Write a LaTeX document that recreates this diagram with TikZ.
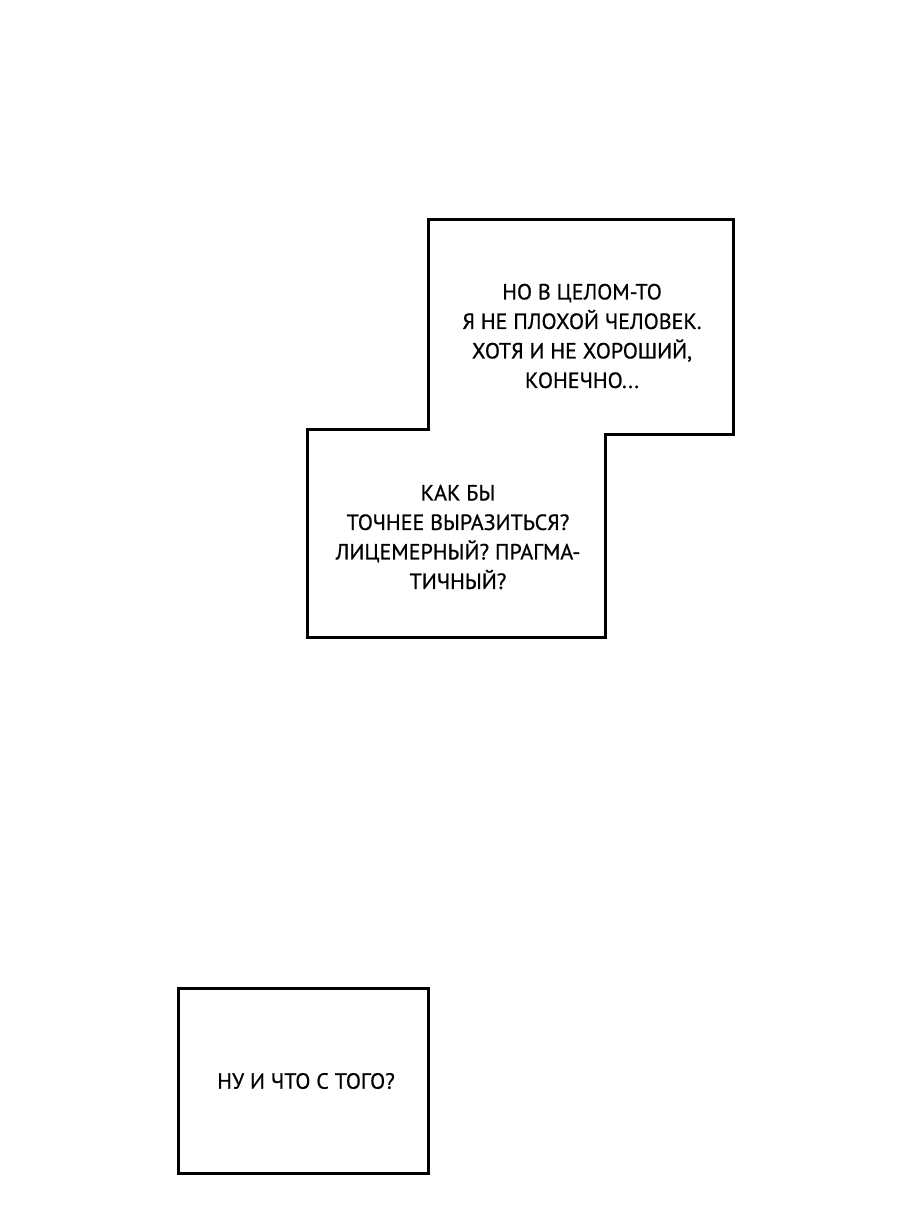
\documentclass[tikz,border=0pt]{standalone}
\usepackage{fontspec}
\setmainfont{PT Sans}[FakeBold=0.7]
\usepackage{tikz}
\tikzset{
	panel/.style={draw=black, line width=3pt, fill=white, line join=miter},
	say/.style={align=center, font=\fontsize{22}{29.5}\selectfont, inner sep=0pt}
}

\begin{document}
\begin{tikzpicture}[x=1pt, y=-1pt]
				\useasboundingbox[fill=white] (0,0) rectangle (900,1219);
				\draw[panel] (428,219) -- (733,219) -- (733,434) -- (605,434) -- (605,637)
					-- (307,637) -- (307,429) -- (428,429) -- cycle;
				\draw[panel] (178,988) rectangle (428,1173);
				\node[say] (top) at (582,336) {НО В ЦЕЛОМ-ТО\\Я НЕ ПЛОХОЙ ЧЕЛОВЕК.\\ХОТЯ И НЕ ХОРОШИЙ,\\КОНЕЧНО...};
				\node[say] (mid) at (458,537) {КАК БЫ\\ТОЧНЕЕ ВЫРАЗИТЬСЯ?\\ЛИЦЕМЕРНЫЙ? ПРАГМА-\\ТИЧНЫЙ?};
				\node[say] (low) at (306,1081) {НУ И ЧТО С ТОГО?};
			\end{tikzpicture}
\end{document}
